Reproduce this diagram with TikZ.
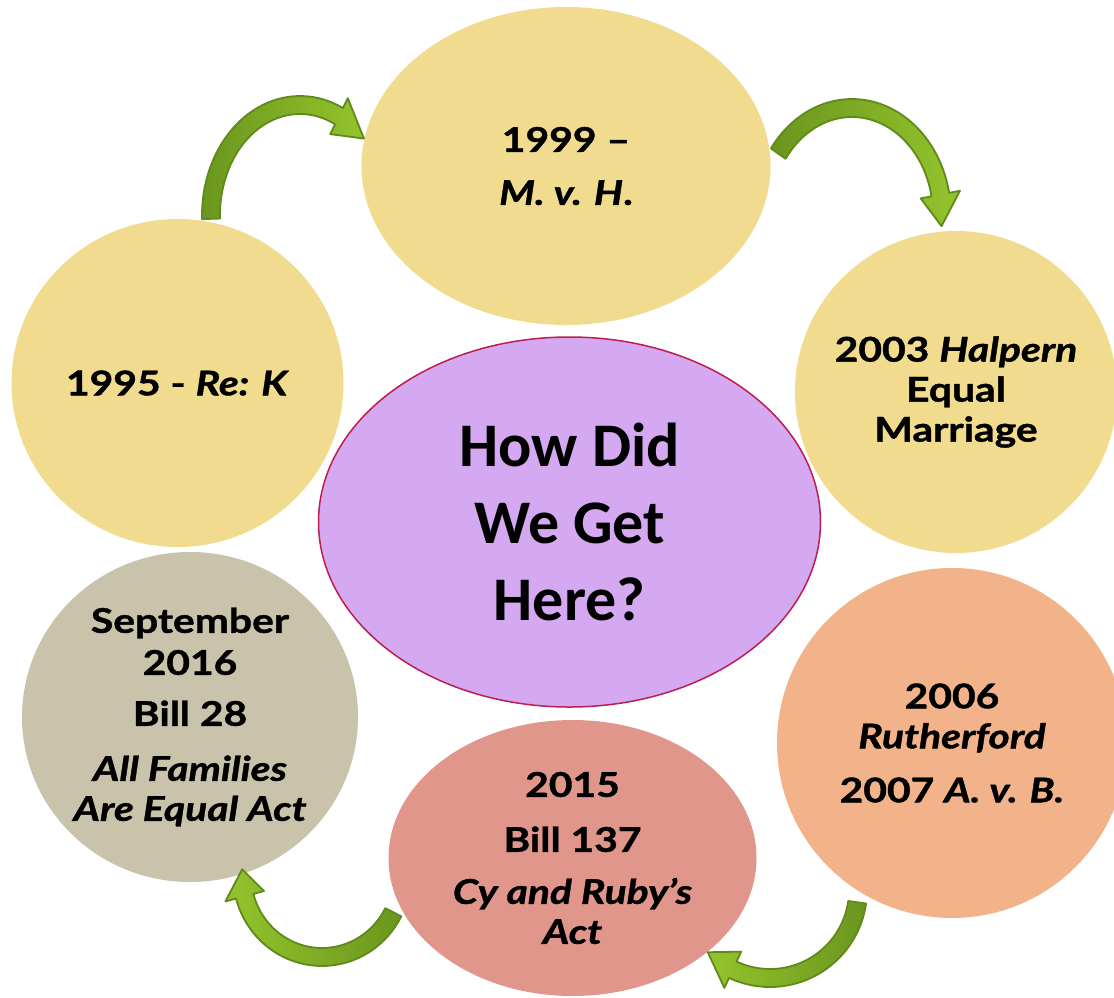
\documentclass[tikz,border=0pt]{standalone}
\usepackage{fontspec}

\newfontfamily\gillfont{Lato}[
  BoldFeatures={FakeStretch=1.2, FakeBold=1.2},
  BoldItalicFeatures={FakeStretch=1.2, FakeBold=1.2}]
\newfontfamily\calfont{Carlito}

\definecolor{Sand}{HTML}{F0DB8E}
\definecolor{Stone}{HTML}{C9C3AB}
\definecolor{Salmon}{HTML}{E0968A}
\definecolor{Peach}{HTML}{F2B38A}
\definecolor{Lilac}{HTML}{D5A8F2}
\definecolor{Crimson}{HTML}{BC1E50}
\definecolor{LeafDark}{HTML}{6A961E}
\definecolor{LeafLight}{HTML}{94C42C}
\definecolor{LeafLine}{HTML}{5F8A19}

% half width of the band and of the head
\def\bandw{9}
\def\headw{20}

% bent block arrow on an ellipse: cx, cy, rx, ry, tail angle, head base angle, tip angle, shading
\newcommand{\bentarrow}[8]{%
  \draw[arrowline, #8]
    plot[domain=#5:#6, samples=40] ({#1+(#3+\bandw)*cos(\x)}, {#2+(#4+\bandw)*sin(\x)})
    -- ({#1+(#3+\headw)*cos(#6)}, {#2+(#4+\headw)*sin(#6)})
    -- ({#1+#3*cos(#7)}, {#2+#4*sin(#7)})
    -- ({#1+(#3-\headw)*cos(#6)}, {#2+(#4-\headw)*sin(#6)})
    -- plot[domain=#6:#5, samples=40] ({#1+(#3-\bandw)*cos(\x)}, {#2+(#4-\bandw)*sin(\x)})
    -- cycle;
}

\begin{document}
\begin{tikzpicture}[x=1pt, y=-1pt,
  disctext/.style={align=center, inner sep=0pt, font=\gillfont\bfseries\fontsize{34}{40}\selectfont},
  arrowline/.style={draw=LeafLine, line width=1.8pt, line join=round}]

 \useasboundingbox (0,0) rectangle (1114,997);

 %%%%%%%%%% Centres %%%%%%%%%%
 \coordinate (c95) at (177.5,383);
 \coordinate (c99) at (566,166);
 \coordinate (c03) at (956,392);
 \coordinate (c06) at (952,743);
 \coordinate (c15) at (572.5,858);
 \coordinate (c16) at (190,717);
 \coordinate (cq) at (569.5,522);

 %%%%%%%%%% Discs %%%%%%%%%%
 \fill[Sand] (c95) ellipse [x radius=166, y radius=164];
 \fill[Sand] (c99) ellipse [x radius=204.5, y radius=159];
 \fill[Sand] (c03) ellipse [x radius=161, y radius=161];
 \fill[Peach] (c06) ellipse [x radius=175, y radius=175];
 \fill[Salmon] (c15) ellipse [x radius=184, y radius=138];
 \fill[Stone] (c16) ellipse [x radius=168, y radius=165];
 \filldraw[fill=Lilac, draw=Crimson, line width=1.5pt] (cq) ellipse [x radius=251, y radius=185];

 %%%%%%%%%% Texts %%%%%%%%%%
 \node[disctext] (rek) at (c95) {1995 - \textit{Re: K}};
 \node[disctext] (mvh) at (c99) {1999 –\\[13pt] \textit{M. v. H}.};
 \node[disctext] (halpern) at (c03) {2003 \textit{Halpern}\\ Equal\\ Marriage};
 \node[disctext] (rutherford) at (c06) {2006\\ \textit{Rutherford}\\[14pt] 2007 \textit{A. v. B.}};
 \node[disctext] (bill137) at (c15) {2015\\[15pt] Bill 137\\[12pt] \textit{Cy and Ruby’s}\\ \textit{Act}};
 \node[disctext] (bill28) at (c16) {September\\[2pt] 2016\\[11pt] Bill 28\\[15pt] \textit{All Families}\\ \textit{Are Equal Act}};
 \node[align=center, inner sep=0pt, font=\calfont\bfseries\fontsize{62}{77}\selectfont] (question) at (cq) {How Did\\ We Get\\ Here?};

 %%%%%%%%%% Arrows %%%%%%%%%%
 \bentarrow{300}{215}{89}{110}{178}{296}{316}{left color=LeafDark, right color=LeafLight}
 \bentarrow{852}{215}{90}{107}{215}{349}{366}{left color=LeafDark, right color=LeafLight}
 \bentarrow{770}{890}{88}{88}{8}{115}{135}{left color=LeafLight, right color=LeafDark}
 \bentarrow{322}{875}{80}{82}{27}{165}{184}{left color=LeafLight, right color=LeafDark}

\end{tikzpicture}
\end{document}
